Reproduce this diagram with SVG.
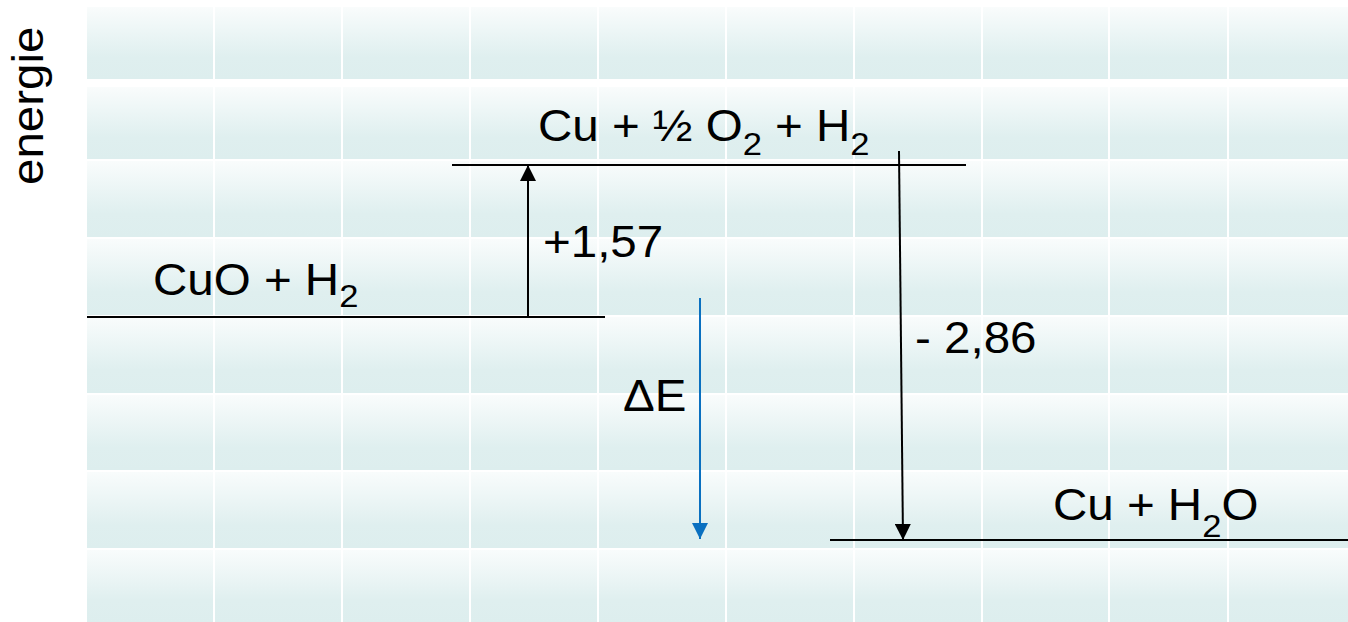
<svg xmlns="http://www.w3.org/2000/svg" xmlns:xlink="http://www.w3.org/1999/xlink" width="1348" height="622" viewBox="0 0 1348 622">
  <defs>
    <linearGradient id="cellGrad" x1="0" y1="0" x2="0" y2="1">
      <stop offset="0" stop-color="#f9fcfc"/>
      <stop offset="0.7" stop-color="#dfefef"/>
      <stop offset="1" stop-color="#ddeeee"/>
    </linearGradient>
    <g id="row">
      <rect class="cell" x="87" y="0" width="126" height="100"/>
      <rect class="cell" x="215" y="0" width="126" height="100"/>
      <rect class="cell" x="343" y="0" width="126" height="100"/>
      <rect class="cell" x="471" y="0" width="126" height="100"/>
      <rect class="cell" x="599" y="0" width="126" height="100"/>
      <rect class="cell" x="727" y="0" width="126" height="100"/>
      <rect class="cell" x="855" y="0" width="126" height="100"/>
      <rect class="cell" x="983" y="0" width="125" height="100"/>
      <rect class="cell" x="1110" y="0" width="117" height="100"/>
      <rect class="cell" x="1229" y="0" width="119" height="100"/>
    </g>
    <marker id="headBlack" markerUnits="userSpaceOnUse" markerWidth="16" markerHeight="16" viewBox="0 0 16 16" refX="16" refY="8" orient="auto">
      <path d="M0,0 L16,8 L0,16 Z" fill="#000"/>
    </marker>
    <marker id="headBlue" markerUnits="userSpaceOnUse" markerWidth="16" markerHeight="16" viewBox="0 0 16 16" refX="16" refY="8" orient="auto">
      <path d="M0,0 L16,8 L0,16 Z" fill="#0a70c0"/>
    </marker>
  </defs>
  <style>
    .cell { fill: url(#cellGrad); }
    .level { stroke: #000; stroke-width: 2; fill: none; }
    .lbl { font-family: "Liberation Sans", Arial, sans-serif; font-size: 44px; fill: #000; }
    .sub { font-size: 32px; }
    .arrow { stroke: #000; stroke-width: 2; fill: none; marker-end: url(#headBlack); }
    .arrowBlue { stroke: #0a70c0; stroke-width: 2; fill: none; marker-end: url(#headBlue); }
  </style>

  <rect x="0" y="0" width="1348" height="622" fill="#ffffff"/>

  <g id="background">
    <use xlink:href="#row" transform="translate(0,7) scale(1,0.72)"/>
    <use xlink:href="#row" transform="translate(0,87) scale(1,0.72)"/>
    <use xlink:href="#row" transform="translate(0,161) scale(1,0.76)"/>
    <use xlink:href="#row" transform="translate(0,239) scale(1,0.76)"/>
    <use xlink:href="#row" transform="translate(0,317) scale(1,0.76)"/>
    <use xlink:href="#row" transform="translate(0,395) scale(1,0.75)"/>
    <use xlink:href="#row" transform="translate(0,472) scale(1,0.76)"/>
    <use xlink:href="#row" transform="translate(0,550) scale(1,0.72)"/>
  </g>

  <g id="axis-label">
    <text class="lbl" transform="translate(43,185) rotate(-90) scale(1.08,1)">energie</text>
  </g>

  <g id="level-CuO-H2">
    <line class="level" x1="87" y1="317" x2="605" y2="317"/>
    <text class="lbl" transform="translate(153,295) scale(1.08,1)">CuO + H<tspan class="sub" dy="12">2</tspan></text>
  </g>

  <g id="level-Cu-O2-H2">
    <line class="level" x1="452" y1="165" x2="966" y2="165"/>
    <text class="lbl" transform="translate(538,141) scale(1.08,1)">Cu + ½ O<tspan class="sub" dy="14">2</tspan><tspan dy="-14"> + H</tspan><tspan class="sub" dy="14">2</tspan></text>
  </g>

  <g id="level-Cu-H2O">
    <line class="level" x1="830" y1="540" x2="1348" y2="540"/>
    <text class="lbl" transform="translate(1053,520) scale(1.08,1)">Cu + H<tspan class="sub" dy="17">2</tspan><tspan dy="-17">O</tspan></text>
  </g>

  <g id="connectors">
    <line class="arrow" x1="528" y1="317" x2="528" y2="165"/>
    <line class="arrow" x1="899" y1="151" x2="903" y2="540"/>
    <line class="arrowBlue" x1="700" y1="298" x2="700" y2="539"/>
    <text class="lbl" transform="translate(543,257) scale(1.08,1)">+1,57</text>
    <text class="lbl" transform="translate(915,353) scale(1.08,1)">- 2,86</text>
    <text class="lbl" transform="translate(623,411) scale(1.08,1)">ΔE</text>
  </g>
</svg>
